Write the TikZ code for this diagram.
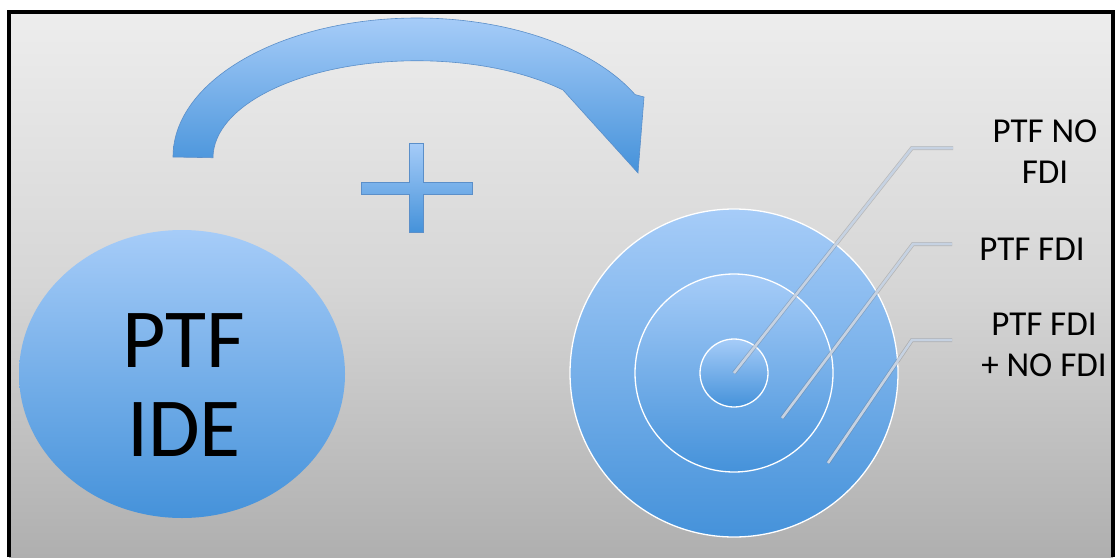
\documentclass[tikz,border=0pt]{standalone}
\usepackage{fontspec}
\setmainfont{Carlito}
\usetikzlibrary{positioning}
\definecolor{bluetop}{HTML}{A6CCF8}
\definecolor{bluebot}{HTML}{4592DA}
\definecolor{blueedge}{HTML}{5B8FC9}
\definecolor{callout}{HTML}{C6D2E2}
\definecolor{bgtop}{HTML}{EDEDED}
\definecolor{bgmid}{HTML}{D6D6D6}
\definecolor{bgbot}{HTML}{AFAFAF}
\tikzset{
  blueshade/.style={top color=bluetop, bottom color=bluebot},
  ring/.style={blueshade, draw=white, line width=1.3pt},
  calloutline/.style={draw=callout, line width=2.6pt},
  calloutunder/.style={draw=black!55, line width=4pt, opacity=.35},
  ptfbig/.style={font=\fontsize{84}{89}\selectfont, align=center},
  ptfsmall/.style={font=\fontsize{35}{41}\selectfont, align=center},
}
\begin{document}
\begin{tikzpicture}[x=1pt,y=-1pt]
  \useasboundingbox (0,0) rectangle (1116,557);
  \fill[white] (0,0) rectangle (1116,557);
  \shade[top color=bgtop, bottom color=bgbot, middle color=bgmid] (9,12) rectangle (1113,557);
  \draw[line width=3.5pt] (9,557) -- (9,12) -- (1113,12) -- (1113,557);
  \shade[blueshade, draw=blueedge, line width=.6pt]
    (173,157) arc[start angle=180, end angle=26.7, x radius=244pt, y radius=139pt]
    -- (644,97) -- (638,173) -- (563,90)
    arc[start angle=44.3, end angle=180, x radius=204pt, y radius=97pt] -- cycle;
  \shade[blueshade, draw=blueedge, line width=.6pt]
    (409,143) -- (423,143) -- (423,182) -- (472,182) -- (472,194) -- (423,194)
    -- (423,232) -- (409,232) -- (409,194) -- (361,194) -- (361,182) -- (409,182) -- cycle;
  \shade[blueshade] (182,374) ellipse[x radius=163pt, y radius=144pt];
  \node[ptfbig] (ide) at (184,385) {PTF\\IDE};
  \shade[ring] (734,373) circle[radius=164pt];
  \shade[ring] (734,373) circle[radius=99pt];
  \shade[ring] (734,373) circle[radius=34pt];
  \coordinate (inner) at (734,373);
  \coordinate (bendA) at (912,148);
  \coordinate (endA) at (953,148);
  \coordinate (middle) at (782,418);
  \coordinate (bendB) at (913,244);
  \coordinate (endB) at (952,244);
  \coordinate (outer) at (828,463);
  \coordinate (bendC) at (912,340);
  \coordinate (endC) at (952,340);
  \foreach \from/\bend/\to in {inner/bendA/endA, middle/bendB/endB, outer/bendC/endC}{
    \draw[calloutunder] (\from) -- (\bend) -- (\to);
    \draw[calloutline] (\from) -- (\bend) -- (\to);
  }
  \node[ptfsmall] (lblA) at (1045,152) {PTF NO\\FDI};
  \node[ptfsmall] (lblB) at (1032,249) {PTF FDI};
  \node[ptfsmall] (lblC) at (1044,345) {PTF FDI\\+ NO FDI};
\end{tikzpicture}
\end{document}
